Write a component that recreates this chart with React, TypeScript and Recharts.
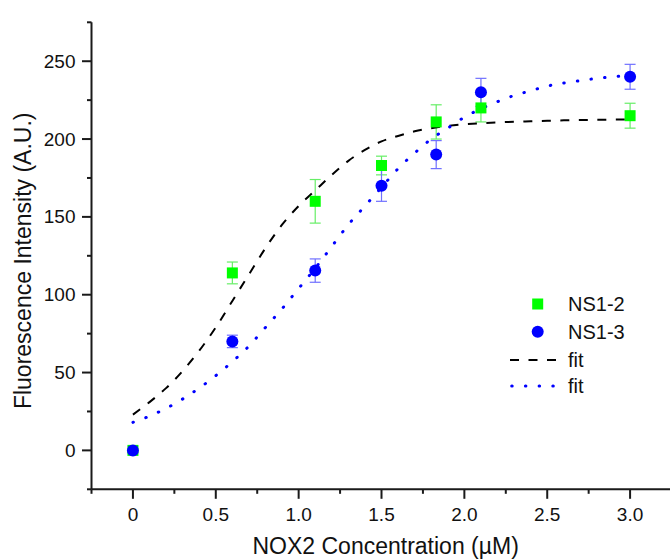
import React from 'react';
import { ComposedChart, XAxis, YAxis, Scatter, Line, ErrorBar, Legend, Label } from 'recharts';

// ---- data ----
const concentrations = [0, 0.6, 1.1, 1.5, 1.83, 2.1, 3.0];
const ns12Values = [0, 114, 160, 183, 211, 220, 215];
const ns12Errors = [0, 7, 14, 6, 11, 9, 8];
const ns13Values = [0, 70, 115.5, 170, 190, 230, 240];
const ns13Errors = [0, 4, 7.5, 10, 9, 9, 8];

const fitX = [0, 0.1, 0.2, 0.3, 0.4, 0.5, 0.6, 0.7, 0.8, 0.9, 1.0, 1.1, 1.2, 1.3, 1.4, 1.5, 1.6, 1.7, 1.8, 1.9, 2.0, 2.1, 2.2, 2.3, 2.4, 2.5, 2.6, 2.7, 2.8, 2.9, 3.0];
const fitNS12 = [23, 31, 40, 51, 64, 79, 96, 113, 130, 145, 157, 167, 177, 186, 193, 198.5, 202, 205, 207, 208.5, 209.5, 210.2, 210.7, 211.1, 211.4, 211.7, 212, 212.2, 212.4, 212.5, 212.6];
const fitNS13 = [18, 22, 27, 33, 40, 48, 57, 67, 79, 91, 104, 117, 131, 145, 157, 169, 181, 191, 200, 207, 214, 219.5, 224, 228, 231, 234, 236, 237.5, 239, 240, 241];

const xMajorTicks = [0, 0.5, 1, 1.5, 2, 2.5, 3];
const xTickLabels = ['0', '0.5', '1.0', '1.5', '2.0', '2.5', '3.0'];
const xAllTicks = [-0.25, 0, 0.25, 0.5, 0.75, 1, 1.25, 1.5, 1.75, 2, 2.25, 2.5, 2.75, 3, 3.25];
const yMajorTicks = [0, 50, 100, 150, 200, 250];
const yTickLabels = ['0', '50', '100', '150', '200', '250'];
const yAllTicks = [-25, 0, 25, 50, 75, 100, 125, 150, 175, 200, 225, 250, 275];

const seriesNames = ['NS1-2', 'NS1-3', 'fit', 'fit'];
const xTitle = 'NOX2 Concentration (\u00b5M)';
const yTitle = 'Fluorescence Intensity (A.U.)';

const ns12Data = concentrations.map((x, i) => ({ x, y: ns12Values[i], err: ns12Errors[i] }));
const ns13Data = concentrations.map((x, i) => ({ x, y: ns13Values[i], err: ns13Errors[i] }));
const fit12Data = fitX.map((x, i) => ({ x, y: fitNS12[i] }));
const fit13Data = fitX.map((x, i) => ({ x, y: fitNS13[i] }));

// ---- style ----
const FONT = '"Liberation Sans", Arial, Helvetica, sans-serif';
const AXIS = '#1a1a1a';
const GREEN = '#00ff00';
const BLUE = '#0000ff';
const GREEN_ERR = '#66ee66';
const BLUE_ERR = '#7070ff';
const MAJOR = 9.5;
const MINOR = 4.5;

const BottomTick = (p: any) => {
  const v = p.payload.value;
  const idx = xMajorTicks.indexOf(v);
  const major = idx >= 0;
  return (
    <g>
      <line x1={p.x} x2={p.x} y1={p.y} y2={p.y + (major ? MAJOR : MINOR)} stroke={AXIS} strokeWidth={2} />
      {major && (
        <text x={p.x} y={p.y + 31.5} textAnchor="middle" fontSize={19} fontFamily={FONT} fill="#111">
          {xTickLabels[idx]}
        </text>
      )}
    </g>
  );
};

const TopTick = (p: any) => {
  const v = p.payload.value;
  const major = xMajorTicks.indexOf(v) >= 0;
  return <line x1={p.x} x2={p.x} y1={p.y} y2={p.y - (major ? MAJOR : MINOR)} stroke={AXIS} strokeWidth={2} />;
};

const LeftTick = (p: any) => {
  const v = p.payload.value;
  const idx = yMajorTicks.indexOf(v);
  const major = idx >= 0;
  return (
    <g>
      <line x1={p.x} x2={p.x - (major ? MAJOR : MINOR)} y1={p.y} y2={p.y} stroke={AXIS} strokeWidth={2} />
      {major && (
        <text x={p.x - 16} y={p.y} textAnchor="end" dominantBaseline="central" fontSize={19} fontFamily={FONT} fill="#111">
          {yTickLabels[idx]}
        </text>
      )}
    </g>
  );
};

const SquareShape = (p: any) => <rect x={p.cx - 5.5} y={p.cy - 5.5} width={11} height={11} fill={GREEN} />;
const CircleShape = (p: any) => <circle cx={p.cx} cy={p.cy} r={6} fill={BLUE} />;

const XTitle = (p: any) => {
  const vb = p.viewBox;
  return (
    <text x={vb.x + vb.width / 2} y={vb.y + vb.height - 6.5} textAnchor="middle" fontSize={23} fontFamily={FONT} fill="#111">
      {xTitle}
    </text>
  );
};

const YTitle = (p: any) => {
  const vb = p.viewBox;
  const cx = vb.x + 31;
  const cy = vb.y + vb.height / 2 + 5;
  return (
    <text x={cx} y={cy} transform={`rotate(-90, ${cx}, ${cy})`} textAnchor="middle" fontSize={23} fontFamily={FONT} fill="#111">
      {yTitle}
    </text>
  );
};

const LegendBox = () => (
  <svg width={165} height={110} style={{ display: 'block', overflow: 'visible' }}>
    <rect x={27.2} y={8.5} width={11} height={11} fill={GREEN} />
    <circle cx={32.7} cy={41.7} r={6} fill={BLUE} />
    <line x1={5} x2={52} y1={70} y2={70} stroke="#000" strokeWidth={2} strokeDasharray="9 9.5" />
    <line x1={6.7} x2={52} y1={96} y2={96} stroke={BLUE} strokeWidth={3} strokeDasharray="0.5 13.2" strokeLinecap="round" />
    {[14, 41.7, 70, 96].map((yy, i) => (
      <text key={i} x={63} y={yy} dominantBaseline="central" fontSize={20} fontFamily={FONT} fill="#111">
        {seriesNames[i]}
      </text>
    ))}
  </svg>
);

export default function App() {
  return (
    <div style={{ position: 'absolute', left: 0, top: 0, width: 670, height: 560, overflow: 'hidden', background: '#fff' }}>
      <ComposedChart width={700} height={560} margin={{ top: 22.3, right: 20.2, bottom: 0, left: 0 }}>
        <XAxis
          xAxisId="b"
          dataKey="x"
          type="number"
          domain={[-0.25, 3.3]}
          allowDataOverflow
          ticks={xAllTicks}
          interval={0}
          tickSize={0}
          tickMargin={0}
          tickLine={false}
          tick={<BottomTick />}
          axisLine={{ stroke: AXIS, strokeWidth: 2 }}
          height={70.7}
        >
          <Label content={<XTitle />} />
        </XAxis>
        <XAxis
          xAxisId="t"
          orientation="top"
          dataKey="x"
          type="number"
          domain={[-0.25, 3.3]}
          allowDataOverflow
          ticks={xAllTicks}
          interval={0}
          tickSize={0}
          tickMargin={0}
          tickLine={false}
          tick={<TopTick />}
          axisLine={{ stroke: AXIS, strokeWidth: 2 }}
          height={0}
        />
        <YAxis
          dataKey="y"
          type="number"
          domain={[-25, 275]}
          allowDataOverflow
          ticks={yAllTicks}
          interval={0}
          tickSize={0}
          tickMargin={0}
          tickLine={false}
          tick={<LeftTick />}
          axisLine={{ stroke: AXIS, strokeWidth: 2 }}
          width={91.5}
        >
          <Label content={<YTitle />} />
        </YAxis>
        <Scatter xAxisId="b" name="NS1-2" data={ns12Data} dataKey="y" shape={SquareShape} isAnimationActive={false}>
          <ErrorBar dataKey="err" direction="y" width={5.5} stroke={GREEN_ERR} strokeWidth={1.2} isAnimationActive={false} />
        </Scatter>
        <Scatter xAxisId="b" name="NS1-3" data={ns13Data} dataKey="y" shape={CircleShape} isAnimationActive={false}>
          <ErrorBar dataKey="err" direction="y" width={5.5} stroke={BLUE_ERR} strokeWidth={1.2} isAnimationActive={false} />
        </Scatter>
        <Line
          xAxisId="t"
          data={fit12Data}
          dataKey="y"
          type="monotone"
          stroke="#000"
          strokeWidth={2}
          strokeDasharray="9 9.5"
          dot={false}
          activeDot={false}
          isAnimationActive={false}
        />
        <Line
          xAxisId="t"
          data={fit13Data}
          dataKey="y"
          type="monotone"
          stroke={BLUE}
          strokeWidth={3}
          strokeDasharray="0.5 13.2"
          strokeLinecap="round"
          dot={false}
          activeDot={false}
          isAnimationActive={false}
        />
        <Legend
          layout="vertical"
          align="center"
          verticalAlign="middle"
          wrapperStyle={{ position: 'absolute', left: 505, top: 290, width: 165, height: 110 }}
          content={() => <LegendBox />}
        />
      </ComposedChart>
    </div>
  );
}
